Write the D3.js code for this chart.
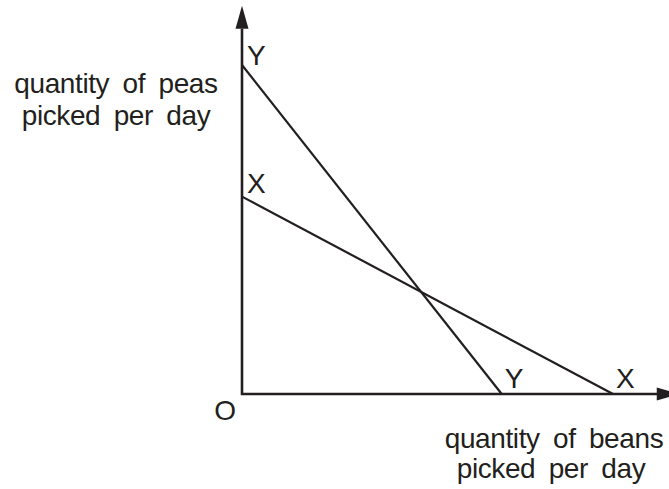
<!DOCTYPE html>
<html lang="en">
<head>
  <meta charset="UTF-8">
  <title>Peas and beans</title>
  <style>
    html, body { margin: 0; padding: 0; background: #fff; }
    svg text { font-family: "Liberation Sans", Arial, Helvetica, sans-serif; font-size: 28px; fill: #231f20; letter-spacing: -0.4px; }
  </style>
</head>
<body>
  <svg width="669" height="489"></svg>
  <script src="https://d3js.org/d3.v7.min.js"></script>
  <script>
    // production possibility lines: [beans, peas] end points
    const lineNames = ['Y', 'X'];
    const peasMax = [10, 6];     // intercept on peas axis
    const beansMax = [7, 10];    // intercept on beans axis
    const axisMax = 11.8;
    const yAxisLabel = ['quantity of peas', 'picked per day'];
    const xAxisLabel = ['quantity of beans', 'picked per day'];
    const originLabel = 'O';

    const ink = '#231f20';
    const svg = d3.select('svg');

    const x = d3.scaleLinear().domain([0, 10]).range([242, 613]);
    const y = d3.scaleLinear().domain([0, 10]).range([394, 65]);

    const line = d3.line().x(d => x(d[0])).y(d => y(d[1]));

    // budget lines
    lineNames.forEach((name, i) => {
      svg.append('path')
        .attr('d', line([[0, peasMax[i]], [beansMax[i], 0]]))
        .attr('fill', 'none')
        .attr('stroke', ink)
        .attr('stroke-width', 2.2);
    });

    // axes
    svg.append('path')
      .attr('d', line([[0, axisMax - 0.7], [0, 0], [axisMax - 0.6, 0]]))
      .attr('fill', 'none')
      .attr('stroke', ink)
      .attr('stroke-width', 2.6);

    // arrow heads
    const x0 = x(0), y0 = y(0), yTop = y(axisMax), xEnd = x(axisMax);
    svg.append('path')
      .attr('d', `M${x0},${yTop} L${x0 - 6.5},${yTop + 23} L${x0 + 6.5},${yTop + 23} Z`)
      .attr('fill', ink);
    svg.append('path')
      .attr('d', `M${xEnd},${y0} L${xEnd - 23},${y0 - 6.5} L${xEnd - 23},${y0 + 6.5} Z`)
      .attr('fill', ink);

    // intercept labels
    lineNames.forEach((name, i) => {
      svg.append('text')
        .attr('x', x(0) + 5)
        .attr('y', y(peasMax[i]) - (i === 1 ? 4 : 0))
        .text(name);
      svg.append('text')
        .attr('x', x(beansMax[i]) + 3)
        .attr('y', y(0) - 6)
        .text(name);
    });

    svg.append('text')
      .attr('x', x(0) - 17)
      .attr('y', y(0) + 26)
      .attr('text-anchor', 'middle')
      .text(originLabel);

    // axis titles
    svg.append('text')
      .attr('text-anchor', 'middle')
      .style('word-spacing', '6px')
      .selectAll('tspan')
      .data(yAxisLabel)
      .join('tspan')
        .attr('x', 116)
        .attr('y', (d, i) => 93 + i * 32)
        .text(d => d);

    svg.append('text')
      .attr('text-anchor', 'middle')
      .style('word-spacing', '6px')
      .selectAll('tspan')
      .data(xAxisLabel)
      .join('tspan')
        .attr('x', (d, i) => i === 0 ? 554 : 551)
        .attr('y', (d, i) => 448 + i * 30)
        .text(d => d);
  </script>
</body>
</html>
